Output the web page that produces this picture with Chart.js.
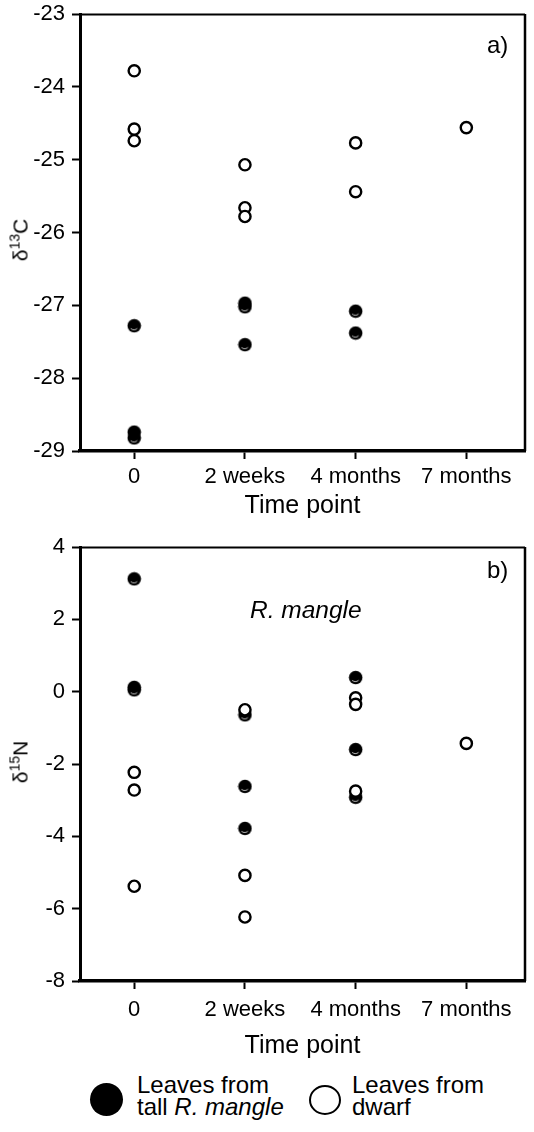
<!DOCTYPE html>
<html><head><meta charset="utf-8">
<script src="https://cdn.jsdelivr.net/npm/chart.js@4.4.1/dist/chart.umd.min.js"></script>
<style>
html,body{margin:0;padding:0;background:#fff;}
body{width:534px;height:1132px;position:relative;overflow:hidden;font-family:"Liberation Sans",Arial,sans-serif;color:#000;}
canvas{position:absolute;left:0;}
.lbl{position:absolute;white-space:nowrap;line-height:1;}
.ytitle{position:absolute;transform:translate(-50%,-50%) rotate(-90deg);font-size:21px;white-space:nowrap;line-height:1;}
.ytitle .sup{font-size:14px;position:relative;top:-8px;}
.dot{position:absolute;border-radius:50%;box-sizing:border-box;}
.leg{position:absolute;font-size:24px;line-height:22px;white-space:nowrap;}
</style></head><body>
<canvas id="c1" width="534" height="530" style="top:0"></canvas>
<canvas id="c2" width="534" height="540" style="top:530px"></canvas>

<div class="ytitle" style="left:20px;top:240px">δ<span class="sup">13</span>C</div>
<div class="ytitle" style="left:20px;top:762px">δ<span class="sup">15</span>N</div>
<div class="lbl" style="left:487px;top:33px;font-size:24px">a)</div>
<div class="lbl" style="left:487px;top:558px;font-size:24px">b)</div>
<div class="lbl" style="left:250px;top:598px;font-size:24.5px;font-style:italic">R. mangle</div>

<div class="dot" style="left:90px;top:1083px;width:33px;height:33px;background:#000"></div>
<div class="leg" style="left:137px;top:1074px">Leaves from<br>tall <i>R. mangle</i></div>
<div class="dot" style="left:309px;top:1085px;width:32px;height:30px;border:2px solid #000;background:#fff"></div>
<div class="leg" style="left:352px;top:1074px">Leaves from<br>dwarf</div>

<script>
// ---- data ----
const timePoints = ['0', '2 weeks', '4 months', '7 months'];
// delta 13C values per time point
const d13cTall  = [[-27.28, -28.74, -28.82], [-26.97, -27.02, -27.54], [-27.08, -27.38], []];
const d13cDwarf = [[-23.78, -24.58, -24.74], [-25.07, -25.66, -25.78], [-24.77, -25.44], [-24.56]];
// delta 15N values per time point
const d15nTall  = [[3.12, 0.12, 0.05], [-0.64, -2.62, -3.78], [0.39, -1.60, -2.92], []];
const d15nDwarf = [[-2.23, -2.72, -5.38], [-0.50, -5.08, -6.23], [-0.17, -0.35, -2.75], [-1.43]];
const d13cTicks = [-29, -28, -27, -26, -25, -24, -23];
const d15nTicks = [-8, -6, -4, -2, 0, 2, 4];

function toPoints(groups) {
  const pts = [];
  groups.forEach((vals, i) => vals.forEach(v => pts.push({x: i, y: v})));
  return pts;
}

// filled marker with small highlight
const filledMarker = (() => {
  const c = document.createElement('canvas');
  c.width = 15; c.height = 15;
  const g = c.getContext('2d');
  g.fillStyle = '#000';
  g.beginPath(); g.arc(7.5, 7.5, 6.8, 0, Math.PI * 2); g.fill();
  g.strokeStyle = 'rgba(255,255,255,0.85)';
  g.lineWidth = 0.9;
  g.beginPath(); g.arc(7.2, 7.0, 4.6, 0.25 * Math.PI, 0.75 * Math.PI); g.stroke();
  return c;
})();

const framePlugin = {
  id: 'frame',
  afterDraw(chart) {
    const {ctx, chartArea: a} = chart;
    ctx.save();
    ctx.strokeStyle = '#000';
    ctx.lineWidth = 2;
    ctx.beginPath(); ctx.moveTo(a.left, a.top + 0.5); ctx.lineTo(a.right, a.top + 0.5); ctx.stroke();
    ctx.lineWidth = 2.5;
    ctx.beginPath(); ctx.moveTo(a.right, a.top); ctx.lineTo(a.right, a.bottom); ctx.stroke();
    ctx.restore();
  }
};

const FONT = '"Liberation Sans", Arial, sans-serif';

function makeChart(id, tall, dwarf, ticks, padTop, xHeight, tickPad, titlePad) {
  return new Chart(document.getElementById(id), {
    type: 'scatter',
    data: {
      datasets: [
        { label: 'Leaves from dwarf', data: toPoints(dwarf),
          pointStyle: 'circle', pointRadius: 5.6, pointHoverRadius: 5.6,
          pointBackgroundColor: '#fff', pointBorderColor: '#000', pointBorderWidth: 2.4 },
        { label: 'Leaves from tall R. mangle', data: toPoints(tall),
          pointStyle: filledMarker, pointRadius: 7, pointHoverRadius: 7 }
      ]
    },
    options: {
      responsive: false,
      animation: false,
      events: [],
      layout: { padding: { top: padTop, right: 9, left: 0, bottom: 0 } },
      plugins: { legend: { display: false }, tooltip: { enabled: false } },
      scales: {
        x: {
          type: 'linear', min: -0.49, max: 3.53,
          afterFit: s => { s.height = xHeight; s.paddingLeft = 0; s.paddingRight = 0; },
          afterBuildTicks: s => { s.ticks = timePoints.map((_, i) => ({ value: i })); },
          ticks: { callback: v => timePoints[v], color: '#000', padding: tickPad,
                   font: { family: FONT, size: 22 }, maxRotation: 0, autoSkip: false },
          grid: { drawOnChartArea: false, drawTicks: true, tickLength: 8, tickWidth: 2, tickColor: '#000' },
          border: { display: true, width: 3.5, color: '#000' },
          title: { display: true, text: 'Time point', color: '#000',
                   font: { family: FONT, size: 25 }, padding: { top: 0, bottom: titlePad } }
        },
        y: {
          type: 'linear', min: ticks[0], max: ticks[ticks.length - 1],
          afterFit: s => { s.width = 80; s.paddingTop = 0; s.paddingBottom = 0; },
          afterBuildTicks: s => { s.ticks = ticks.map(v => ({ value: v })); },
          ticks: { color: '#000', padding: 7, font: { family: FONT, size: 22 } },
          grid: { drawOnChartArea: false, drawTicks: true, tickLength: 8, tickWidth: 2, tickColor: '#000' },
          border: { display: true, width: 3, color: '#000' }
        }
      }
    },
    plugins: [framePlugin]
  });
}

makeChart('c1', d13cTall, d13cDwarf, d13cTicks, 14, 79, 5, 9);
makeChart('c2', d15nTall, d15nDwarf, d15nTicks, 17, 89, 8, 9);
</script>
</body></html>
